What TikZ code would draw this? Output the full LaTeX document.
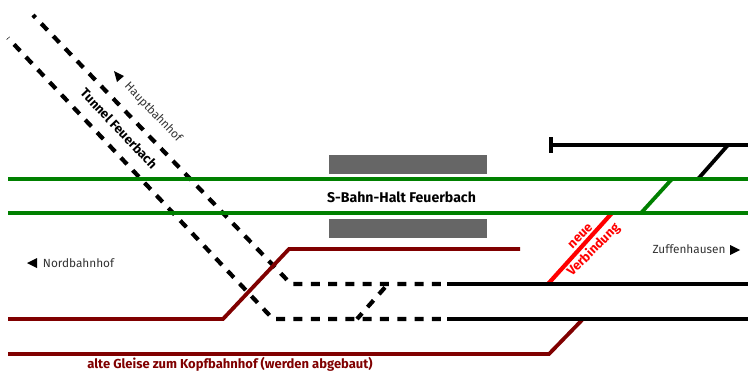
\documentclass[tikz,border=0pt]{standalone}
\usepackage{fontspec}
\setmainfont{Fira Sans}
\definecolor{trackgreen}{HTML}{008000}
\definecolor{trackred}{HTML}{800000}
\definecolor{platgray}{HTML}{666666}
\definecolor{labelgray}{HTML}{333333}
\tikzset{
  track/.style={line width=3.8pt,line cap=butt,line join=miter},
  greentrack/.style={track,draw=trackgreen},
  oldtrack/.style={track,draw=trackred},
  blacktrack/.style={track,draw=black},
  tunneltrack/.style={track,draw=black,line width=4.2pt,dash pattern=on 9pt off 8.3pt},
  newtrack/.style={track,draw=red,line width=4.2pt},
  platform/.style={fill=platgray,draw=none},
  title/.style={font=\fontsize{13}{15}\selectfont\bfseries,inner sep=0pt},
  place/.style={font=\fontsize{11.8}{14}\selectfont,text=labelgray,inner sep=0pt},
  dirmark/.style={fill=black,draw=none},
}
\begin{document}
\begin{tikzpicture}[x=1pt,y=-1pt]
\useasboundingbox (0,0) rectangle (748,372);
% free ends and bends
\coordinate (gaW) at (8,179);   \coordinate (gaE) at (748,179);
\coordinate (gbW) at (8,213);   \coordinate (gbE) at (748,213);
\coordinate (t1A) at (33,15);   \coordinate (t1B) at (291,284); \coordinate (t1C) at (447,284);
\coordinate (t2A) at (8,38);    \coordinate (t2B) at (273,319); \coordinate (t2C) at (447,319);
\coordinate (xA) at (357,319);  \coordinate (xB) at (388,284);
\coordinate (b1E) at (748,284); \coordinate (b2E) at (748,319);
\coordinate (topW) at (551,145); \coordinate (topE) at (748,145);
\coordinate (stopA) at (551,137); \coordinate (stopB) at (551,153);
\coordinate (brA) at (728,145); \coordinate (brB) at (698,179);
\coordinate (glA) at (672,179); \coordinate (glB) at (641,213);
\coordinate (nvA) at (612,213); \coordinate (nvB) at (548,284);
\coordinate (o1A) at (8,319); \coordinate (o1B) at (223,319); \coordinate (o1C) at (289,249); \coordinate (o1D) at (520,249);
\coordinate (o2A) at (8,354); \coordinate (o2B) at (549,354); \coordinate (o2C) at (583,319);
% platforms
\fill[platform] (329,155) rectangle (487,174);
\fill[platform] (329,219) rectangle (487,238);
% tunnels
\draw[tunneltrack,dash phase=5.4pt] (t1A) -- (t1B) -- (t1C);
\draw[tunneltrack,dash phase=8.5pt] (t2A) -- (t2B) -- (t2C);
\draw[tunneltrack,dash phase=1.4pt] (xA) -- (xB);
% old tracks
\draw[oldtrack] (o1A) -- (o1B) -- (o1C) -- (o1D);
\draw[oldtrack] (o2A) -- (o2B) -- (o2C);
% new link and black tracks
\draw[newtrack] (nvA) -- (nvB);
\draw[blacktrack] (t1C) -- (b1E);
\draw[blacktrack] (t2C) -- (b2E);
\draw[blacktrack] (topW) -- (topE);
\draw[blacktrack] (stopA) -- (stopB);
\draw[blacktrack] (brA) -- (brB);
% green
\draw[greentrack] (gaW) -- (gaE);
\draw[greentrack] (gbW) -- (gbE);
\draw[greentrack] (glA) -- (glB);
% direction marks
\fill[dirmark] (27,263) -- (37,258) -- (37,268) -- cycle;
\fill[dirmark] (740,250) -- (730,245) -- (730,255) -- cycle;
\fill[dirmark] (114,71) -- (124,76) -- (117,82) -- cycle;
% labels
\node[title,font=\fontsize{14.1}{16}\selectfont\bfseries] (halt) at (401.5,197) {S-Bahn-Halt Feuerbach};
\node[title,rotate=-46.5] (tunnel) at (119,128.5) {Tunnel Feuerbach};
\node[place,rotate=-46.5] (hbf) at (153,112.5) {Hauptbahnhof};
\node[place] (nbf) at (78.5,263) {Nordbahnhof};
\node[place] (zuf) at (689,249.5) {Zuffenhausen};
\node[title,text=trackred] (alt) at (230,364) {alte Gleise zum Kopfbahnhof (werden abgebaut)};
\node[title,text=red,rotate=45] (neue) at (580.5,236.5) {neue};
\node[title,text=red,rotate=45] (verb) at (593.5,250) {Verbindung};
\end{tikzpicture}
\end{document}
